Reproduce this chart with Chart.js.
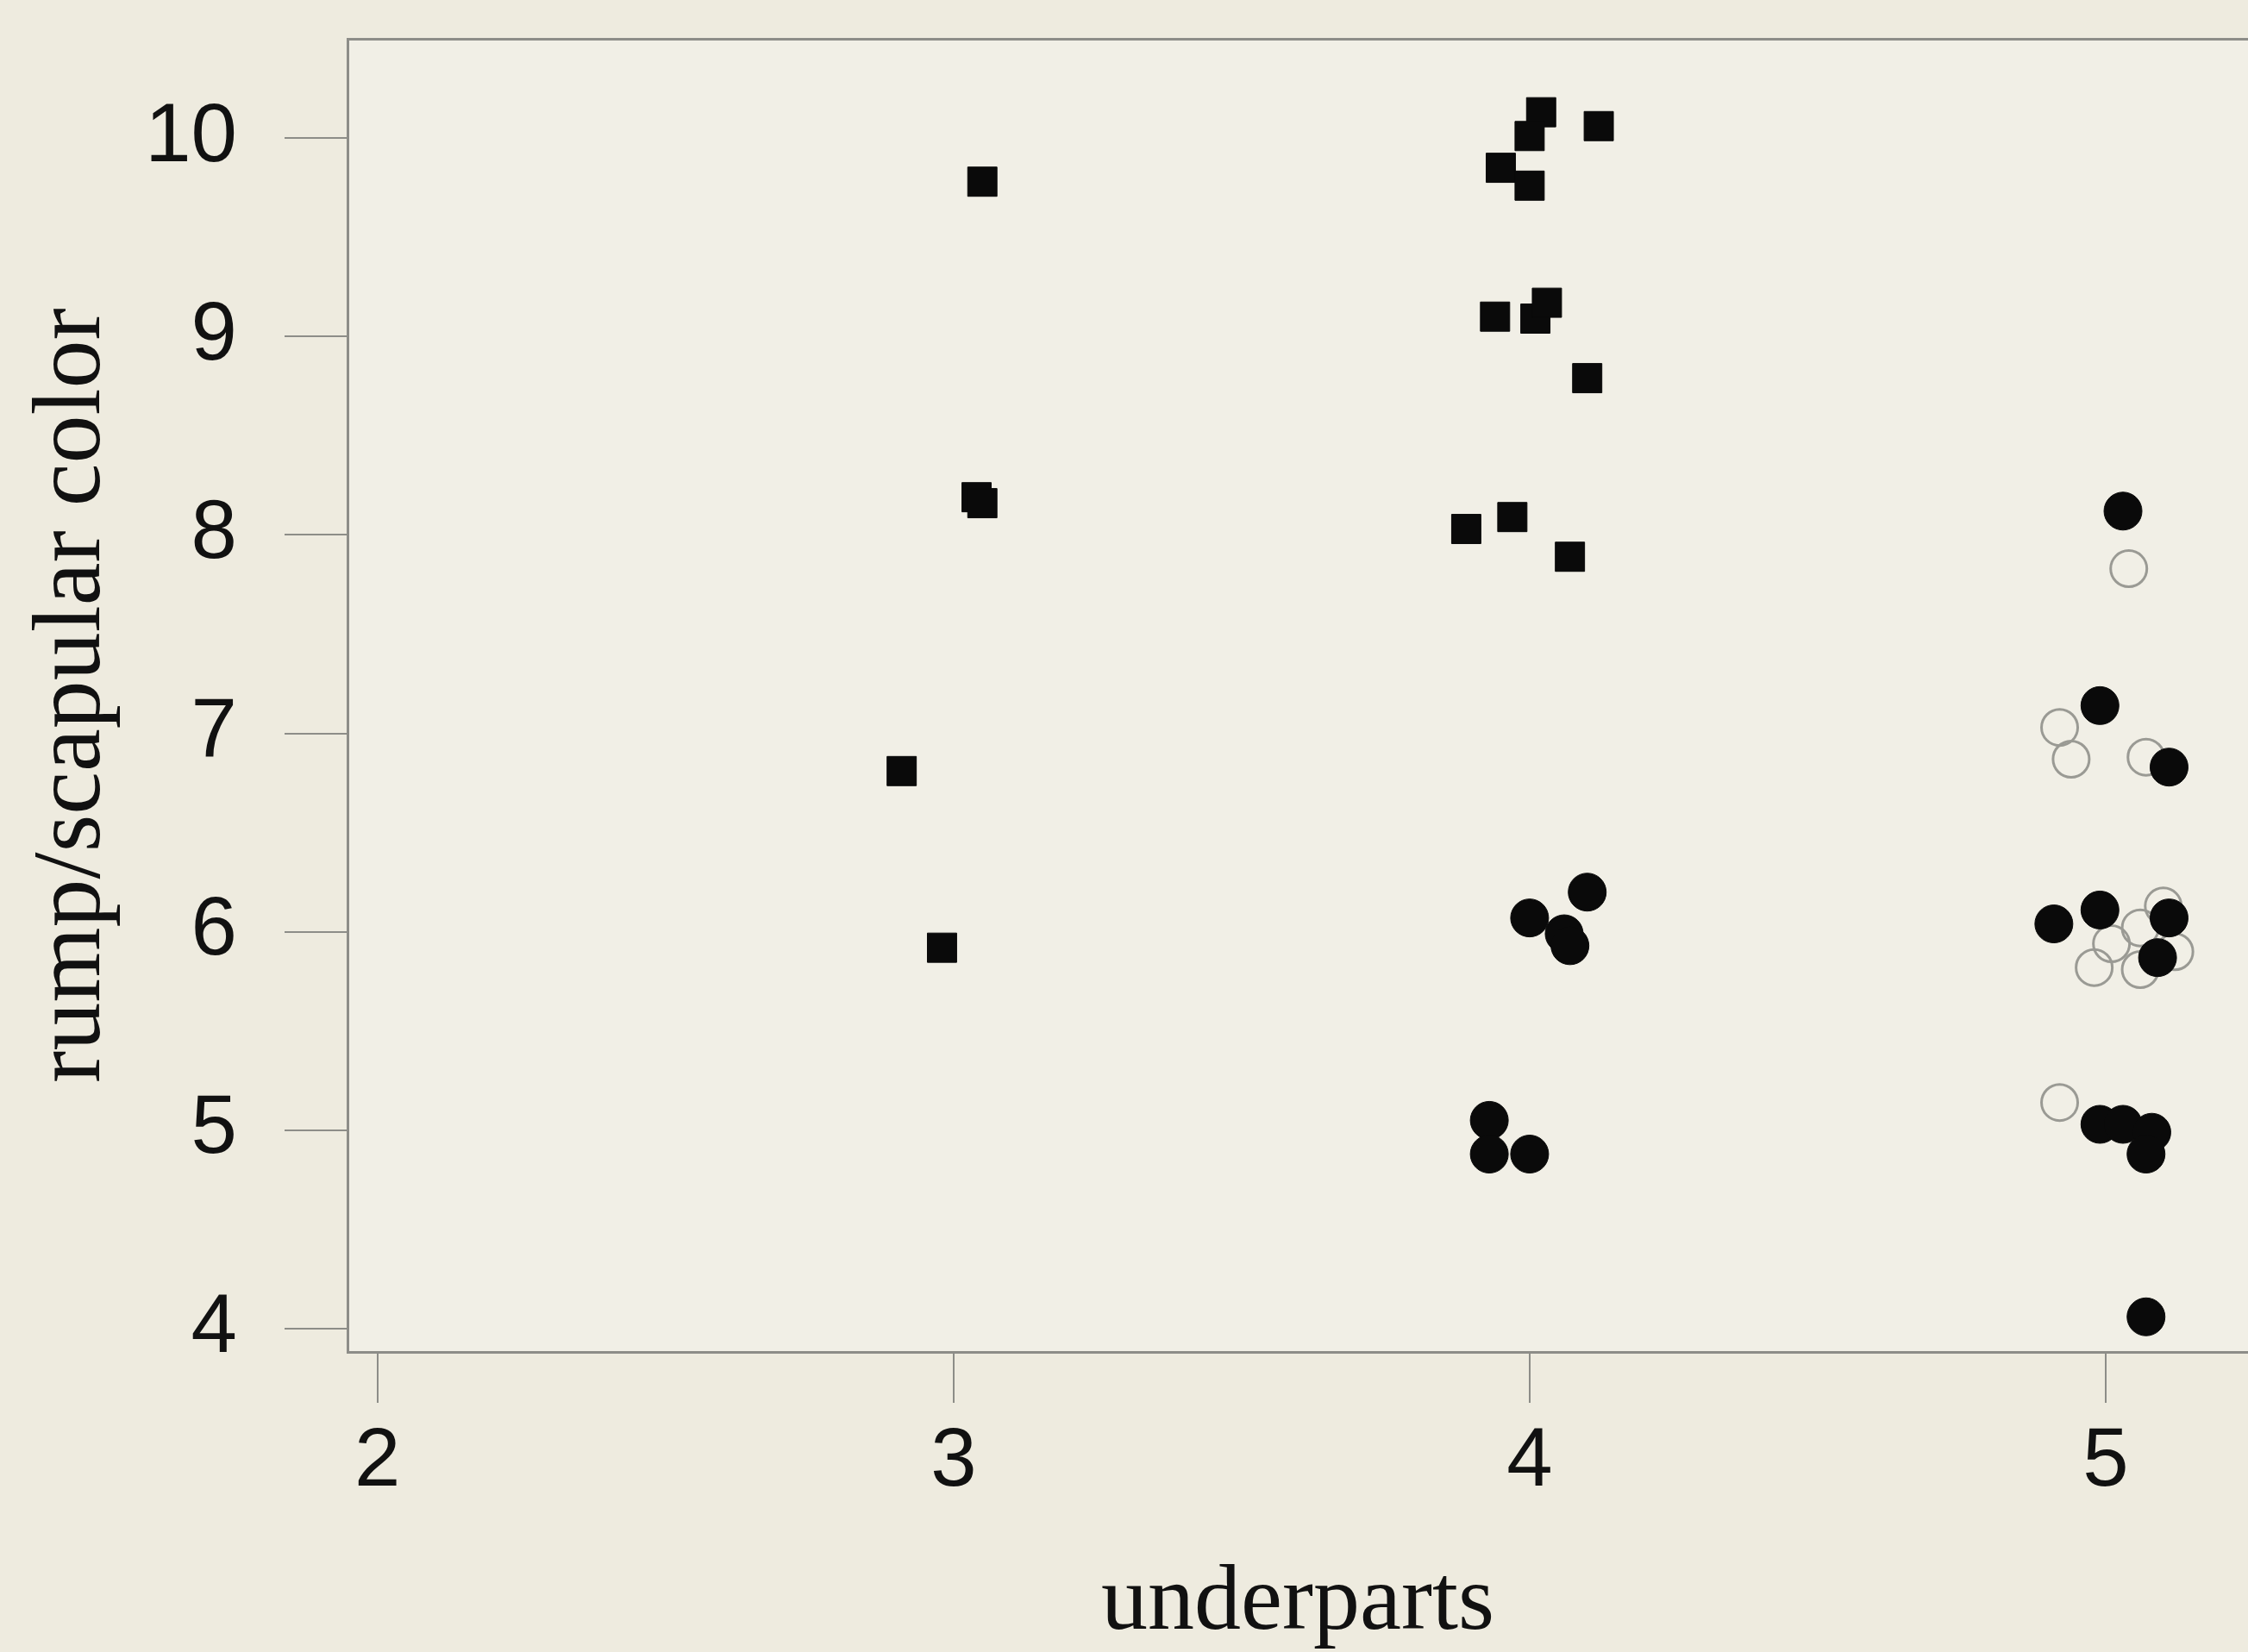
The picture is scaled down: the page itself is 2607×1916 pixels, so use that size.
<!DOCTYPE html>
<html>
<head>
<meta charset="utf-8">
<script src="https://cdn.jsdelivr.net/npm/chart.js@4.4.0/dist/chart.umd.min.js"></script>
<style>
  html, body { margin: 0; padding: 0; background: #eeebdf; }
  #wrap { width: 2607px; height: 1916px; }
</style>
</head>
<body>
<div id="wrap"><canvas id="myChart"></canvas></div>
<script>
// tick values
const xTicks = [2, 3, 4, 5]
const yTicks = [4, 5, 6, 7, 8, 9, 10]

// filled squares
const squareX = [3.05, 3.04, 3.05, 2.91, 2.98, 4.02, 4.00, 4.12, 3.95, 4.00, 3.94, 4.01, 4.03, 4.10, 3.89, 3.97, 4.07]
const squareY = [9.78, 8.19, 8.16, 6.81, 5.92, 10.13, 10.01, 10.06, 9.85, 9.76, 9.10, 9.09, 9.17, 8.79, 8.03, 8.09, 7.89]

// filled circles
const dotX = [4.00, 4.10, 4.06, 4.07, 3.93, 3.93, 4.00, 5.03, 4.99, 5.11, 4.91, 4.99, 5.11, 5.09, 4.99, 5.03, 5.08, 5.07, 5.07]
const dotY = [6.07, 6.20, 5.99, 5.93, 5.05, 4.88, 4.88, 8.12, 7.14, 6.83, 6.04, 6.11, 6.07, 5.87, 5.03, 5.03, 4.99, 4.88, 4.06]

// open circles
const ringX = [5.04, 4.92, 4.94, 5.07, 4.98, 5.06, 5.01, 5.06, 5.10, 5.12, 4.92]
const ringY = [7.83, 7.03, 6.87, 6.88, 5.82, 5.81, 5.94, 6.02, 6.13, 5.90, 5.14]

const toPoints = (xs, ys) => xs.map((x, i) => ({ x: x, y: ys[i] }))

const axisGrey = '#8d8d88'
const tickFont = { family: 'Liberation Sans', size: 96 }
const titleFont = { family: 'Liberation Serif', size: 108, lineHeight: 1 }

// stop the scales from reserving extra room for edge labels
const noPad = (s) => {
  s.paddingTop = 0
  s.paddingBottom = 0
  s.paddingLeft = 0
  s.paddingRight = 0
}

const plotBg = {
  id: 'plotBg',
  beforeDraw(chart) {
    const { ctx, chartArea: a } = chart
    ctx.save()
    ctx.fillStyle = '#f1efe6'
    ctx.fillRect(a.left, a.top, a.right - a.left, a.bottom - a.top)
    ctx.restore()
  }
}

new Chart(document.getElementById('myChart'), {
  type: 'scatter',
  data: {
    datasets: [
      {
        label: 'filled',
        data: toPoints(dotX, dotY),
        pointStyle: 'circle',
        pointRadius: 22,
        backgroundColor: '#0a0a0a',
        borderColor: '#0a0a0a',
        borderWidth: 1,
        order: 1
      },
      {
        label: 'open',
        data: toPoints(ringX, ringY),
        pointStyle: 'circle',
        pointRadius: 21,
        backgroundColor: 'rgba(0,0,0,0)',
        borderColor: '#9a9a94',
        borderWidth: 3,
        order: 2
      },
      {
        label: 'squares',
        data: toPoints(squareX, squareY),
        pointStyle: 'rect',
        pointRadius: 24,
        backgroundColor: '#0a0a0a',
        borderColor: '#0a0a0a',
        borderWidth: 1,
        order: 3
      }
    ]
  },
  options: {
    responsive: true,
    maintainAspectRatio: false,
    animation: false,
    layout: { padding: 0, autoPadding: false },
    plugins: {
      legend: { display: false },
      tooltip: { enabled: false }
    },
    scales: {
      x: {
        type: 'linear',
        position: 'bottom',
        min: 1.948,
        max: 5.247,
        afterBuildTicks: (s) => { s.ticks = xTicks.map(v => ({ value: v })) },
        afterFit: (s) => { s.height = 348; noPad(s) },
        grid: { drawOnChartArea: false, drawTicks: true, tickLength: 59, color: axisGrey, lineWidth: 2 },
        border: { display: true, color: axisGrey, width: 3 },
        ticks: { font: tickFont, color: '#111', padding: 12, maxRotation: 0 },
        title: { display: true, text: 'underparts', font: titleFont, color: '#111', padding: { bottom: 1 } }
      },
      x2: {
        type: 'linear',
        position: 'top',
        min: 1.948,
        max: 5.247,
        afterFit: (s) => { s.height = 45; noPad(s) },
        grid: { display: false },
        border: { display: true, color: axisGrey, width: 3 },
        ticks: { display: false }
      },
      y: {
        type: 'linear',
        position: 'left',
        min: 3.883,
        max: 10.5,
        afterBuildTicks: (s) => { s.ticks = yTicks.map(v => ({ value: v })) },
        afterFit: (s) => { s.width = 403; noPad(s) },
        grid: { drawOnChartArea: false, drawTicks: true, tickLength: 73, color: axisGrey, lineWidth: 2 },
        border: { display: true, color: axisGrey, width: 3 },
        ticks: { font: tickFont, color: '#111', padding: 55 },
        title: { display: true, text: 'rump/scapular color', font: { family: 'Liberation Serif', size: 112, lineHeight: 1 }, color: '#111', padding: { top: 30 } }
      }
    }
  },
  plugins: [plotBg]
})
</script>
</body>
</html>
